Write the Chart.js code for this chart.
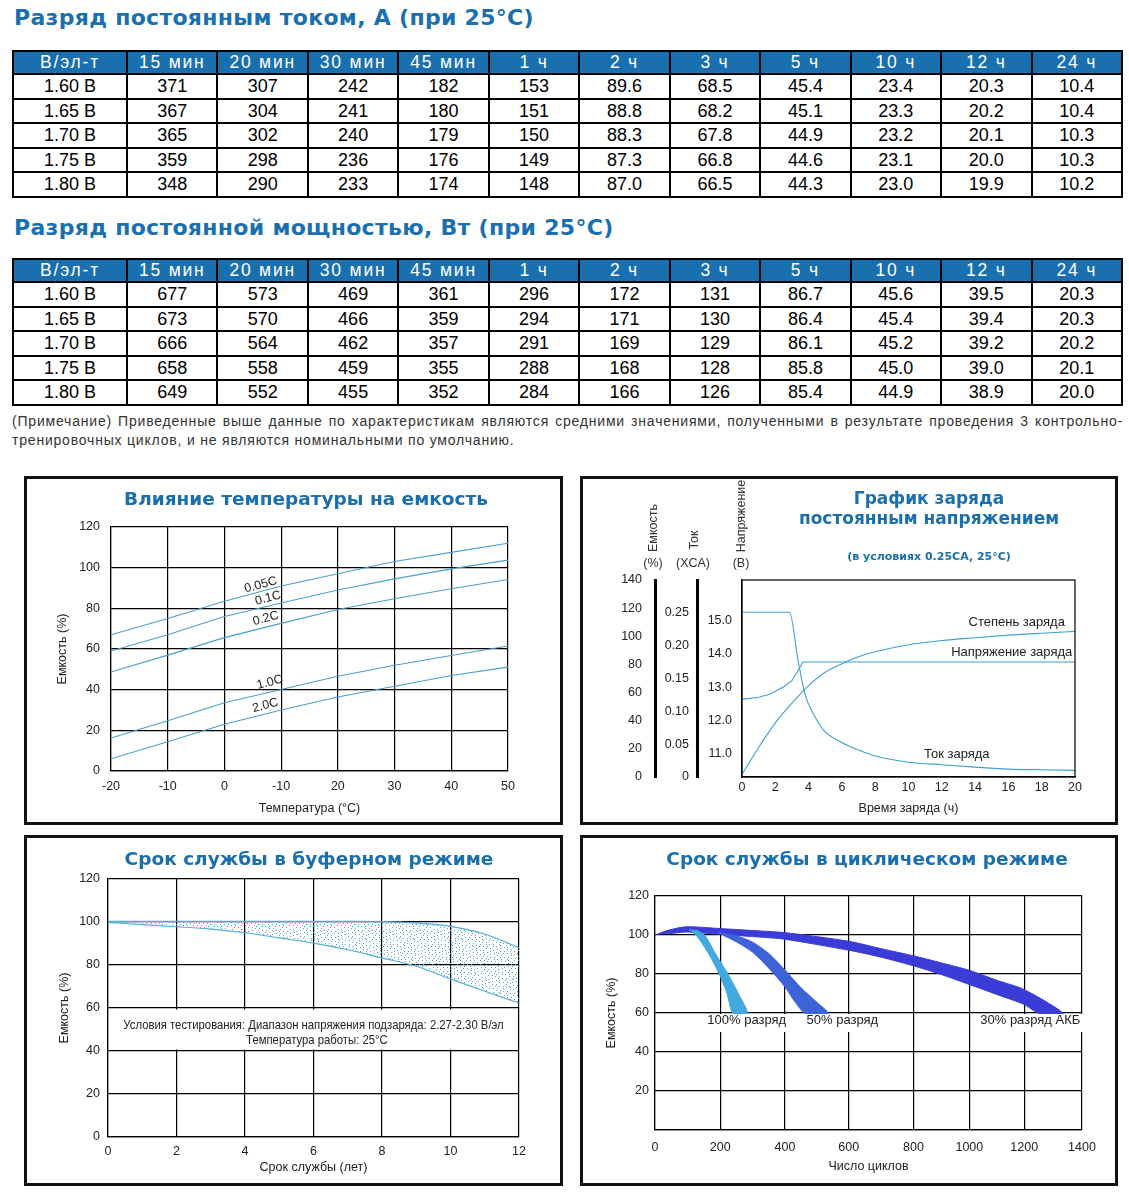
<!DOCTYPE html>
<html>
<head>
<meta charset="utf-8">
<script src="https://cdn.jsdelivr.net/npm/chart.js@4.4.1/dist/chart.umd.min.js"></script>
<style>
  body { margin: 0; background: #fff; width: 1129px; height: 1204px; position: relative; overflow: hidden; font-family: "Liberation Sans", Arial, sans-serif; }
  .h { position: absolute; left: 14px; font: bold 22px "DejaVu Sans", sans-serif; letter-spacing: 0.3px; color: #1a6fae; white-space: nowrap; }
  table.t { position: absolute; left: 12px; width: 1111px; border-collapse: collapse; table-layout: fixed; }
  table.t th, table.t td { border: 2px solid #000; padding: 0; text-align: center; white-space: nowrap; overflow: hidden; }
  table.t th { background: #1a6fae; color: #fff; font-weight: normal; font-size: 17.5px; letter-spacing: 1.8px; height: 21px; line-height: 21px; }
  table.t td { font-size: 18px; color: #000; height: 22.5px; line-height: 22px; }
  .note { position: absolute; left: 12px; width: 1111px; font-size: 14px; letter-spacing: 0.8px; color: #333; line-height: 19px; }
  .box { position: absolute; border: 3px solid #111; box-sizing: border-box; background: #fff; }
  .box canvas { position: absolute; left: 0; top: 0; }
  .ct { position: absolute; transform: translate(-50%, -50%); font: bold 18.5px "DejaVu Sans", sans-serif; color: #1a6fae; white-space: nowrap; }
  .lab { position: absolute; transform: translate(-50%, -50%); font: 12.5px "Liberation Sans", sans-serif; color: #333; white-space: nowrap; }
  .rot { transform: translate(-50%, -50%) rotate(-90deg); }
</style>
</head>
<body>

<div class="h" style="top:5px">Разряд постоянным током, А (при 25°C)</div>
<table class="t" id="tblA" style="top:50px"></table>
<div class="h" style="top:215px">Разряд постоянной мощностью, Вт (при 25°C)</div>
<table class="t" id="tblW" style="top:258px"></table>
<div class="note" style="top:412px;text-align:justify;text-align-last:justify">(Примечание) Приведенные выше данные по характеристикам являются средними значениями, полученными в результате проведения 3 контрольно-</div>
<div class="note" style="top:431px">тренировочных циклов, и не являются номинальными по умолчанию.</div>

<div class="box" style="left:24px;top:476px;width:539px;height:349px"><canvas id="c1" width="533" height="343"></canvas></div>
<div class="box" style="left:580px;top:476px;width:538px;height:349px"><canvas id="c2" width="532" height="343"></canvas></div>
<div class="box" style="left:24px;top:835px;width:539px;height:351px"><canvas id="c3" width="533" height="345"></canvas></div>
<div class="box" style="left:580px;top:835px;width:538px;height:351px"><canvas id="c4" width="532" height="345"></canvas></div>

<div class="ct" style="left:306px;top:498px">Влияние температуры на емкость</div>
<div class="ct" style="left:929px;top:498px;font-size:17px">График заряда</div>
<div class="ct" style="left:929px;top:518px;font-size:17px">постоянным напряжением</div>
<div class="ct" style="left:929px;top:556px;font-size:11px">(в условиях 0.25CA, 25°C)</div>
<div class="ct" style="left:309px;top:858px">Срок службы в буферном режиме</div>
<div class="ct" style="left:867px;top:858px">Срок службы в циклическом режиме</div>

<div class="lab rot" style="left:653px;top:528px">Емкость</div>
<div class="lab" style="left:653px;top:563px">(%)</div>
<div class="lab rot" style="left:694px;top:540px">Ток</div>
<div class="lab" style="left:693px;top:563px">(XCA)</div>
<div class="lab rot" style="left:741px;top:516px">Напряжение</div>
<div class="lab" style="left:741px;top:563px">(B)</div>

<script>
// ---- tables ----
const endVolts = ['1.60 В', '1.65 В', '1.70 В', '1.75 В', '1.80 В'];
const durations = ['15 мин', '20 мин', '30 мин', '45 мин', '1 ч', '2 ч', '3 ч', '5 ч', '10 ч', '12 ч', '24 ч'];

const amp160 = ['371', '307', '242', '182', '153', '89.6', '68.5', '45.4', '23.4', '20.3', '10.4'];
const amp165 = ['367', '304', '241', '180', '151', '88.8', '68.2', '45.1', '23.3', '20.2', '10.4'];
const amp170 = ['365', '302', '240', '179', '150', '88.3', '67.8', '44.9', '23.2', '20.1', '10.3'];
const amp175 = ['359', '298', '236', '176', '149', '87.3', '66.8', '44.6', '23.1', '20.0', '10.3'];
const amp180 = ['348', '290', '233', '174', '148', '87.0', '66.5', '44.3', '23.0', '19.9', '10.2'];

const watt160 = ['677', '573', '469', '361', '296', '172', '131', '86.7', '45.6', '39.5', '20.3'];
const watt165 = ['673', '570', '466', '359', '294', '171', '130', '86.4', '45.4', '39.4', '20.3'];
const watt170 = ['666', '564', '462', '357', '291', '169', '129', '86.1', '45.2', '39.2', '20.2'];
const watt175 = ['658', '558', '459', '355', '288', '168', '128', '85.8', '45.0', '39.0', '20.1'];
const watt180 = ['649', '552', '455', '352', '284', '166', '126', '85.4', '44.9', '38.9', '20.0'];

// ---- temperature vs capacity ----
const tempX = [-20, -10, 0, 10, 20, 30, 40, 50];
const tempTickLabels = ['-20', '-10', '0', '-10', '20', '30', '40', '50'];
const cap005C = [67, 75, 83.5, 91, 97, 103, 107.5, 112];
const cap01C = [59, 67, 76, 82.6, 89, 94.5, 99.4, 103.7];
const cap02C = [48.7, 57, 65.6, 72.6, 79.4, 84.7, 89.6, 94.2];
const cap10C = [16.2, 24.7, 33.6, 40.1, 46.6, 52, 56.8, 61.5];
const cap20C = [6, 14.4, 23, 30, 36.4, 41.7, 47, 51.1];

// ---- constant voltage charge ----
const voltHours = [0, 1, 1.7, 2.5, 3, 3.5, 3.65, 20];
const chargeVolt = [12.64, 12.7, 12.8, 13.02, 13.2, 13.62, 13.76, 13.76];
const currHours = [0, 2.85, 3.38, 3.79, 4.31, 4.94, 6, 7, 8, 10, 12, 14, 16, 18, 20];
const chargeCurr = [0.25, 0.25, 0.175, 0.125, 0.095, 0.07, 0.0525, 0.041, 0.032, 0.0225, 0.0185, 0.015, 0.012, 0.011, 0.01];
const capHours = [0, 1, 2, 3, 4, 5, 6, 7, 8, 10, 12, 14, 16, 18, 20];
const chargeCap = [2, 21, 38.5, 52.5, 65, 74.5, 80.5, 85.5, 89, 94, 97, 99, 100.8, 102.2, 103.5];
const voltTicks = [11, 12, 13, 14, 15];
const currTicks = [0, 0.05, 0.1, 0.15, 0.2, 0.25];
const capTicks = [0, 20, 40, 60, 80, 100, 120, 140];

// ---- float life ----
const floatYears = [0, 1, 2, 3, 4, 5, 6, 7, 8, 9, 10, 11, 12];
const floatLow = [99.8, 98.8, 97.8, 96.7, 95, 92.6, 90.2, 87.1, 83.3, 79.4, 73.5, 67.8, 62.3];
const floatHigh = [100.3, 100.3, 100.3, 100.3, 100.3, 100.3, 100.3, 100.3, 100.2, 99.5, 98, 94.4, 88];

// ---- cycle life (outline of each band: one edge down, the other back up) ----
const cycleTicks = [0, 200, 400, 600, 800, 1000, 1200, 1400];
const dod100Cycles = [105, 126, 166, 197, 221, 240, 284, 256, 224, 187, 152, 125];
const dod100Cap = [102.8, 100, 90, 80, 70, 59.7, 59.7, 70, 80, 90, 100, 102.6];
const dod50Cycles = [190, 250, 300, 350, 400, 450, 500, 536, 465, 430, 400, 350, 300, 250, 210];
const dod50Cap = [101.6, 99.6, 96.3, 90.5, 82, 73, 65.5, 59.7, 59.7, 66, 73.4, 83, 91.2, 96.5, 99.8];
const dod30Cycles = [0, 40, 95, 200, 300, 400, 600, 700, 800, 900, 1000, 1100, 1200, 1335, 1253, 1200, 1100, 1000, 900, 800, 700, 600, 400, 300, 200, 95, 40];
const dod30Cap = [100, 102.4, 104.2, 103.3, 102.3, 101.2, 96.8, 93, 89.3, 85.7, 81.9, 76.8, 72, 59.7, 59.7, 64.4, 69.5, 74.6, 79.7, 84.2, 88.6, 92.2, 97.8, 99.2, 100.3, 101.5, 100.6];

// ---------------------------------------------------------------
function fillTable(id, rows) {
  let html = '<colgroup><col style="width:114px">' + durations.map(() => '<col>').join('') + '</colgroup>';
  html += '<tr><th>В/эл-т</th>' + durations.map(d => '<th>' + d + '</th>').join('') + '</tr>';
  rows.forEach((r, i) => {
    html += '<tr><td>' + endVolts[i] + '</td>' + r.map(v => '<td>' + v + '</td>').join('') + '</tr>';
  });
  document.getElementById(id).innerHTML = html;
}
fillTable('tblA', [amp160, amp165, amp170, amp175, amp180]);
fillTable('tblW', [watt160, watt165, watt170, watt175, watt180]);

const FAMILY = '"Liberation Sans", Arial, sans-serif';
const tickFont = { family: FAMILY, size: 12.5 };
const ink = '#222';
const pts = (xs, ys) => xs.map((x, i) => ({ x: x, y: ys[i] }));

// text written at data coordinates
function notes(items) {
  return {
    id: 'notes',
    afterDatasetsDraw(chart) {
      const ctx = chart.ctx;
      items.forEach(it => {
        const px = chart.scales[it.xAxis || 'x'].getPixelForValue(it.x);
        const py = chart.scales[it.yAxis || 'y'].getPixelForValue(it.y);
        ctx.save();
        ctx.translate(px, py);
        ctx.rotate((it.rotate || 0) * Math.PI / 180);
        ctx.scale(it.squeeze || 1, 1);
        ctx.font = (it.size || 13) + 'px ' + FAMILY;
        ctx.textAlign = 'center';
        ctx.textBaseline = 'middle';
        if (it.bg) {
          const w = ctx.measureText(it.text).width;
          ctx.fillStyle = '#fff';
          ctx.fillRect(-w / 2 - 3, -6, w + 6, 18);
        }
        ctx.fillStyle = it.color || '#222';
        ctx.fillText(it.text, 0, 0);
        ctx.restore();
      });
    }
  };
}

// plain frame around the plot
const frame = {
  id: 'frame',
  afterDatasetsDraw(chart) {
    const a = chart.chartArea, ctx = chart.ctx;
    ctx.save();
    ctx.strokeStyle = '#000';
    ctx.lineWidth = 1.2;
    ctx.strokeRect(a.left, a.top, a.right - a.left, a.bottom - a.top);
    ctx.restore();
  }
};

// x scale whose grid steps are not evenly spaced in the original drawing
class PiecewiseScale extends Chart.LinearScale {
  getPixelForValue(value) {
    const st = this.options.stops, fr = this.options.fractions;
    let i = 1;
    while (i < st.length - 1 && value > st[i]) i++;
    const f = fr[i - 1] + (value - st[i - 1]) / (st[i] - st[i - 1]) * (fr[i] - fr[i - 1]);
    return this.getPixelForDecimal(f);
  }
  getValueForPixel(pixel) {
    const st = this.options.stops, fr = this.options.fractions;
    const f = this.getDecimalForPixel(pixel);
    let i = 1;
    while (i < fr.length - 1 && f > fr[i]) i++;
    return st[i - 1] + (f - fr[i - 1]) / (fr[i] - fr[i - 1]) * (st[i] - st[i - 1]);
  }
}
PiecewiseScale.id = 'piecewise';
PiecewiseScale.defaults = Chart.LinearScale.defaults;
Chart.register(PiecewiseScale);

const common = {
  responsive: false,
  animation: false,
  events: [],
  plugins: { legend: { display: false }, tooltip: { enabled: false } }
};
const gridBlack = { color: '#000', lineWidth: 1.2, drawTicks: false };
const noGrid = { display: false, drawTicks: false };
const borderBlack = { color: '#000', width: 1.2 };

// ---- chart 1 ----
const tempBlue = '#4a9fc9';
const tempLine = arr => ({ data: pts(tempX, arr), borderColor: tempBlue, borderWidth: 1.1, pointRadius: 0, tension: 0 });
new Chart(document.getElementById('c1'), {
  type: 'line',
  data: { datasets: [tempLine(cap005C), tempLine(cap01C), tempLine(cap02C), tempLine(cap10C), tempLine(cap20C)] },
  options: Object.assign({}, common, {
    layout: { padding: { top: 48, right: 52, left: 0, bottom: 0 } },
    scales: {
      x: {
        type: 'linear', min: -20, max: 50,
        ticks: { stepSize: 10, font: tickFont, color: ink, padding: 8, callback: (v, i) => tempTickLabels[i] },
        grid: gridBlack, border: borderBlack,
        title: { display: true, text: 'Температура (°C)', font: tickFont, color: ink, padding: { top: 0, bottom: 6 } },
        afterFit: s => { s.height = 51; }
      },
      y: {
        min: 0, max: 120,
        ticks: { stepSize: 20, font: tickFont, color: ink, padding: 11 },
        grid: gridBlack, border: borderBlack,
        title: { display: true, text: 'Емкость (%)', font: tickFont, color: ink, padding: { top: 28, bottom: 0 } },
        afterFit: s => { s.width = 84; }
      }
    }
  }),
  plugins: [notes([
    { text: '0.05C', x: 6.4, y: 91.5, rotate: -15, size: 12.5 },
    { text: '0.1C', x: 7.7, y: 85, rotate: -15, size: 12.5 },
    { text: '0.2C', x: 7.3, y: 75, rotate: -15, size: 12.5 },
    { text: '1.0C', x: 8, y: 43.6, rotate: -15, size: 12.5 },
    { text: '2.0C', x: 7.2, y: 32.2, rotate: -15, size: 12.5 }
  ])]
});

// ---- chart 2 ----
const chargeBlue = '#3f9fd3';
const fixedTicks = list => s => { s.ticks = list.map(v => ({ value: v })); };
new Chart(document.getElementById('c2'), {
  type: 'line',
  data: {
    datasets: [
      { data: pts(voltHours, chargeVolt), yAxisID: 'yV', borderColor: chargeBlue, borderWidth: 1.1, pointRadius: 0, tension: 0 },
      { data: pts(currHours, chargeCurr), yAxisID: 'yI', borderColor: chargeBlue, borderWidth: 1.1, pointRadius: 0, cubicInterpolationMode: 'monotone' },
      { data: pts(capHours, chargeCap), yAxisID: 'yC', borderColor: chargeBlue, borderWidth: 1.1, pointRadius: 0, cubicInterpolationMode: 'monotone' }
    ]
  },
  options: Object.assign({}, common, {
    layout: { padding: { top: 101, right: 40, left: 0, bottom: 0 } },
    scales: {
      x: {
        type: 'linear', min: 0, max: 20,
        ticks: { stepSize: 2, font: tickFont, color: ink, padding: 3 },
        grid: noGrid, border: borderBlack,
        title: { display: true, text: 'Время заряда (ч)', font: tickFont, color: ink, padding: { top: 0, bottom: 6 } },
        afterFit: s => { s.height = 45; }
      },
      yV: {
        position: 'left', weight: 1, min: 10.31, max: 16.22,
        afterBuildTicks: fixedTicks(voltTicks),
        ticks: { font: tickFont, color: ink, padding: 10, callback: v => v.toFixed(1) },
        grid: noGrid, border: borderBlack,
        afterFit: s => { s.width = 45; }
      },
      yI: {
        position: 'left', weight: 2, min: 0, max: 0.299,
        afterBuildTicks: fixedTicks(currTicks),
        ticks: { font: tickFont, color: ink, padding: 8, callback: v => (v === 0 ? '0' : v.toFixed(2)) },
        grid: noGrid, border: { color: '#000', width: 3 },
        afterFit: s => { s.width = 42; }
      },
      yC: {
        position: 'left', weight: 3, min: 0, max: 140,
        afterBuildTicks: fixedTicks(capTicks),
        ticks: { font: tickFont, color: ink, padding: 13 },
        grid: noGrid, border: { color: '#000', width: 3 },
        afterFit: s => { s.width = 72; }
      }
    }
  }),
  plugins: [frame, notes([
    { text: 'Степень заряда', x: 16.5, y: 110, yAxis: 'yC' },
    { text: 'Напряжение заряда', x: 16.2, y: 14.06, yAxis: 'yV' },
    { text: 'Ток заряда', x: 12.9, y: 0.034, yAxis: 'yI' }
  ])]
});

// ---- chart 3 ----
function stipple() {
  const c = document.createElement('canvas');
  c.width = 48; c.height = 48;
  const g = c.getContext('2d');
  g.fillStyle = '#4aa6d2';
  // evenly spread dots (R2 low-discrepancy sequence) for a speckled texture
  for (let i = 0; i < 230; i++) {
    const x = Math.floor(((i * 0.7548776662) % 1) * 48);
    const y = Math.floor(((i * 0.5698402910) % 1) * 48);
    g.fillRect(x, y, 1, 1);
  }
  return g.createPattern(c, 'repeat');
}
const floatBlue = '#52acd6';
const clearStrip = {
  id: 'clearStrip',
  beforeDatasetsDraw(chart) {
    const a = chart.chartArea, y = chart.scales.y, ctx = chart.ctx;
    const top = y.getPixelForValue(60) + 1.5, bottom = y.getPixelForValue(40) - 1.5;
    ctx.save();
    ctx.fillStyle = '#fff';
    ctx.fillRect(a.left + 1.5, top, a.right - a.left - 3, bottom - top);
    ctx.restore();
  }
};
new Chart(document.getElementById('c3'), {
  type: 'line',
  data: {
    datasets: [
      { data: pts(floatYears, floatLow), borderColor: floatBlue, borderWidth: 1.2, pointRadius: 0, tension: 0.3, fill: false },
      { data: pts(floatYears, floatHigh), borderColor: floatBlue, borderWidth: 1.2, pointRadius: 0, tension: 0.3, fill: '-1', backgroundColor: stipple() }
    ]
  },
  options: Object.assign({}, common, {
    layout: { padding: { top: 41, right: 41, left: 0, bottom: 0 } },
    scales: {
      x: {
        type: 'linear', min: 0, max: 12,
        ticks: { stepSize: 2, font: tickFont, color: ink, padding: 7 },
        grid: gridBlack, border: borderBlack,
        title: { display: true, text: 'Срок службы (лет)', font: tickFont, color: ink, padding: { top: 0, bottom: 8 } },
        afterFit: s => { s.height = 46; }
      },
      y: {
        min: 0, max: 120,
        ticks: { stepSize: 20, font: tickFont, color: ink, padding: 8 },
        grid: gridBlack, border: borderBlack,
        title: { display: true, text: 'Емкость (%)', font: tickFont, color: ink, padding: { top: 30, bottom: 0 } },
        afterFit: s => { s.width = 81; }
      }
    }
  }),
  plugins: [clearStrip, notes([
    { text: 'Условия тестирования: Диапазон напряжения подзаряда: 2.27-2.30 В/эл', x: 6, y: 51.8, size: 13, squeeze: 0.87 },
    { text: 'Температура работы: 25°C', x: 6.1, y: 44.8, size: 13, squeeze: 0.87 }
  ])]
});

// ---- chart 4 ----
const band = (xs, ys, color) => ({
  type: 'scatter', showLine: true, data: pts(xs, ys), fill: 'shape',
  backgroundColor: color, borderColor: color, borderWidth: 1, pointRadius: 0, tension: 0.25
});
new Chart(document.getElementById('c4'), {
  type: 'scatter',
  data: {
    datasets: [
      band(dod100Cycles, dod100Cap, '#42a8e0'),
      band(dod50Cycles, dod50Cap, '#3d63d6'),
      band(dod30Cycles, dod30Cap, '#3b3bd8')
    ]
  },
  options: Object.assign({}, common, {
    layout: { padding: { top: 58, right: 33, left: 0, bottom: 0 } },
    scales: {
      x: {
        type: 'piecewise', min: 0, max: 1400,
        stops: cycleTicks, fractions: [0, 0.1527, 0.3044, 0.4538, 0.6055, 0.7362, 0.8646, 1],
        ticks: { stepSize: 200, font: tickFont, color: ink, padding: 10, callback: v => String(v) },
        grid: gridBlack, border: borderBlack,
        title: { display: true, text: 'Число циклов', font: tickFont, color: ink, padding: { top: 0, bottom: 9 } },
        afterFit: s => { s.height = 53; }
      },
      y: {
        min: 0, max: 120,
        ticks: { stepSize: 20, font: tickFont, color: ink, padding: 6, callback: v => (v === 0 ? '' : String(v)) },
        grid: gridBlack, border: borderBlack,
        title: { display: true, text: 'Емкость (%)', font: tickFont, color: ink, padding: { top: 21, bottom: 0 } },
        afterFit: s => { s.width = 72; }
      }
    }
  }),
  plugins: [notes([
    { text: '100% разряд', x: 282, y: 56.4, bg: true },
    { text: '50% разряд', x: 580, y: 56.4, bg: true },
    { text: '30% разряд АКБ', x: 1221, y: 56.4, bg: true }
  ])]
});
</script>
</body>
</html>
